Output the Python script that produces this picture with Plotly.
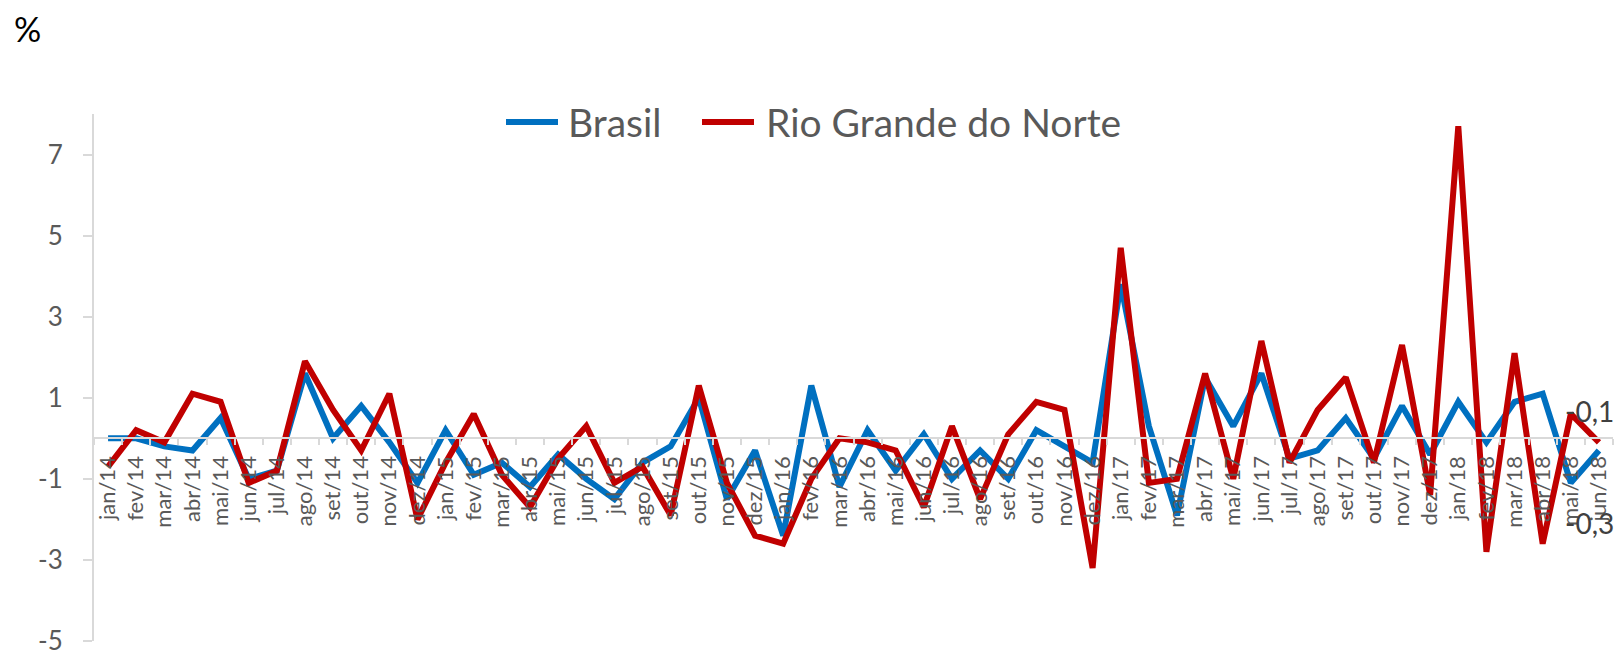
import plotly.graph_objects as go

categories = [
    "jan/14", "fev/14", "mar/14", "abr/14", "mai/14", "jun/14", "jul/14", "ago/14", "set/14", "out/14", "nov/14", "dez/14",
    "jan/15", "fev/15", "mar/15", "abr/15", "mai/15", "jun/15", "jul/15", "ago/15", "set/15", "out/15", "nov/15", "dez/15",
    "jan/16", "fev/16", "mar/16", "abr/16", "mai/16", "jun/16", "jul/16", "ago/16", "set/16", "out/16", "nov/16", "dez/16",
    "jan/17", "fev/17", "mar/17", "abr/17", "mai/17", "jun/17", "jul/17", "ago/17", "set/17", "out/17", "nov/17", "dez/17",
    "jan/18", "fev/18", "mar/18", "abr/18", "mai/18", "jun/18",
]

brasil = [
    0.0, 0.0, -0.2, -0.3, 0.5, -1.0, -0.8, 1.6, 0.0, 0.8, -0.1, -1.1,
    0.2, -0.9, -0.6, -1.2, -0.4, -1.0, -1.5, -0.6, -0.2, 1.0, -1.5, -0.3,
    -2.4, 1.3, -1.2, 0.2, -0.8, 0.1, -1.0, -0.3, -1.0, 0.2, -0.2, -0.6,
    3.8, 0.3, -1.9, 1.5, 0.3, 1.6, -0.5, -0.3, 0.5, -0.5, 0.8, -0.4,
    0.9, -0.1, 0.9, 1.1, -1.1, -0.3,
]

rio_grande_do_norte = [
    -0.7, 0.2, -0.1, 1.1, 0.9, -1.1, -0.8, 1.9, 0.7, -0.3, 1.1, -2.0,
    -0.6, 0.6, -0.9, -1.7, -0.5, 0.3, -1.1, -0.7, -1.9, 1.3, -1.1, -2.4,
    -2.6, -1.0, 0.0, -0.1, -0.3, -1.7, 0.3, -1.5, 0.1, 0.9, 0.7, -3.2,
    4.7, -1.1, -1.0, 1.6, -1.0, 2.4, -0.6, 0.7, 1.5, -0.6, 2.3, -1.4,
    7.7, -2.8, 2.1, -2.6, 0.6, -0.1,
]

y_tickvals = [-5, -3, -1, 1, 3, 5, 7]
y_ticktext = ["-5", "-3", "-1", "1", "3", "5", "7"]
series_names = ["Brasil", "Rio Grande do Norte"]
series_colors = ["#0070C0", "#C00000"]
last_labels = ["-0,3", "-0,1"]

FONT = "Lato"
GRAY = "#595959"
AXIS = "#d9d9d9"

W, H = 1617, 660
ML, MR, MT, MB = 94, 4, 114, 12
PW, PH = W - ML - MR, H - MT - MB


def px_to_paper(px, py):
    return (px - ML) / PW, (H - MB - py) / PH


fig = go.Figure()
for name, vals, col in zip(series_names, [brasil, rio_grande_do_norte], series_colors):
    fig.add_trace(go.Scatter(
        x=categories, y=vals, mode="lines", name=name,
        line=dict(color=col, width=6, shape="linear"),
    ))

ymin, ymax = -5, 8
zero_pos = (0 - ymin) / (ymax - ymin)

fig.update_layout(
    width=W, height=H,
    margin=dict(l=ML, r=MR, t=MT, b=MB),
    paper_bgcolor="white", plot_bgcolor="white",
    font=dict(family=FONT, color=GRAY),
    showlegend=False,
    xaxis=dict(
        type="category", range=[-0.5, len(categories) - 0.5],
        tickmode="linear", tick0=0, dtick=1,
        anchor="free", position=zero_pos,
        showline=True, linecolor=AXIS, linewidth=2,
        ticks="outside", tickson="boundaries", ticklen=6, tickcolor=AXIS, tickwidth=1.5,
        tickangle=-90, tickfont=dict(size=22, color=GRAY, family=FONT),
        ticklabelstandoff=8,
        showgrid=False, zeroline=False,
    ),
    yaxis=dict(
        range=[ymin, ymax], tickvals=y_tickvals, ticktext=y_ticktext,
        showline=True, linecolor=AXIS, linewidth=2,
        ticks="outside", ticklen=9, tickcolor=AXIS, tickwidth=1.5,
        tickfont=dict(size=26, color=GRAY, family=FONT),
        showgrid=False, zeroline=False, ticklabelstandoff=15,
        ticklabeloverflow="allow",
    ),
)

# legend drawn at top (line sample + label)
legend_items = [(506, 558, 566), (702, 754, 764)]
legend_y = 122
for (x0, x1, xt), name, col in zip(legend_items, series_names, series_colors):
    px0, py = px_to_paper(x0, legend_y)
    px1, _ = px_to_paper(x1, legend_y)
    pxt, _ = px_to_paper(xt, legend_y)
    fig.add_shape(type="line", xref="paper", yref="paper", x0=px0, x1=px1, y0=py, y1=py,
                  line=dict(color=col, width=6))
    fig.add_annotation(x=pxt, y=py, xref="paper", yref="paper", xanchor="left", yanchor="middle",
                       text=name, showarrow=False, font=dict(size=39, color=GRAY, family=FONT))

# end-of-series data labels
fig.add_annotation(
    x=categories[-1], y=rio_grande_do_norte[-1], xref="x", yref="y",
    text=last_labels[1], showarrow=False,
    xshift=-9, yshift=31, font=dict(size=28, color="#404040", family=FONT),
)
fig.add_annotation(
    x=categories[-1], y=brasil[-1], xref="x", yref="y",
    text=last_labels[0], showarrow=False,
    xshift=-9, yshift=-73, font=dict(size=28, color="#404040", family=FONT),
)

px_, py_ = px_to_paper(12, 27)
fig.add_annotation(
    x=px_, y=py_, xref="paper", yref="paper", xanchor="left", yanchor="middle",
    text="%", showarrow=False, font=dict(size=34, color="black", family=FONT),
)

fig.write_html(
    "out.html",
    config={"displayModeBar": False},
    post_script="document.body.style.margin='0';document.body.style.overflow='hidden';",
)
